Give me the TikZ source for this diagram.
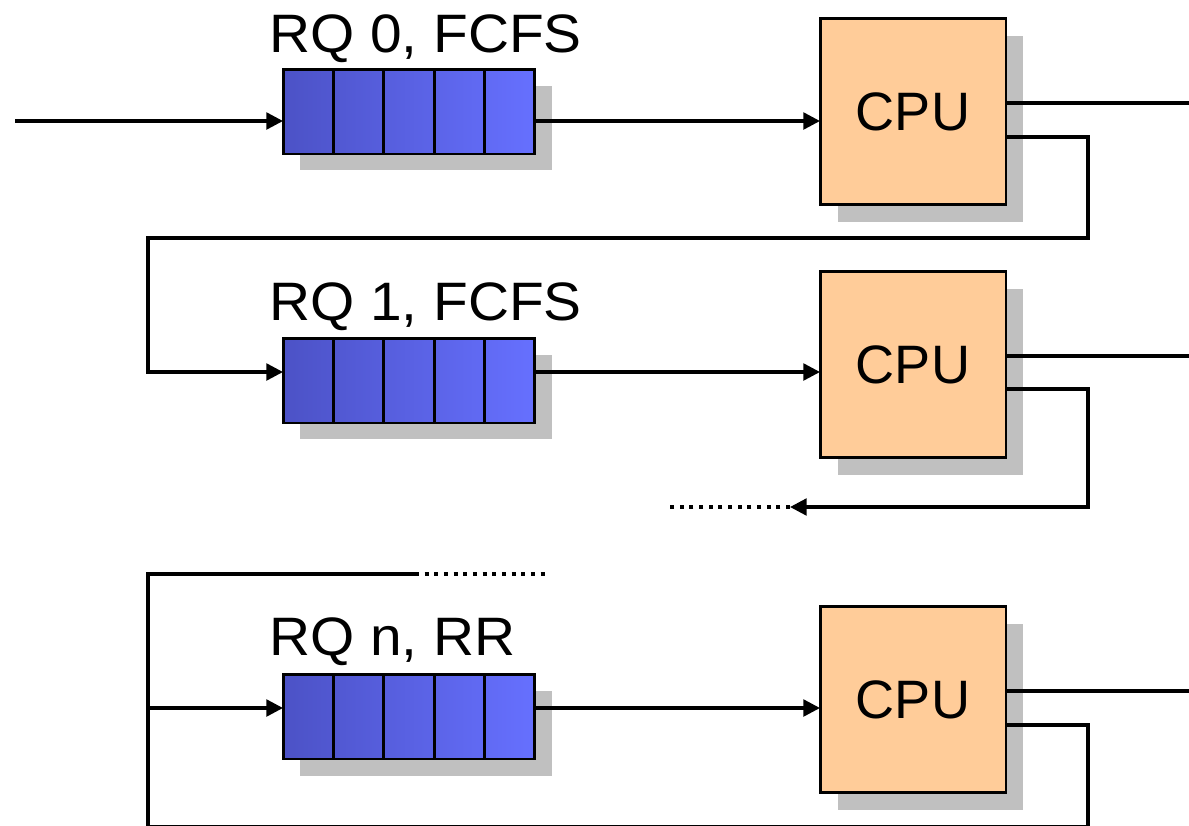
\documentclass[tikz,border=0pt]{standalone}
\usepackage{fontspec}
\setmainfont{Liberation Sans}
\newfontfamily\lblfont[FakeStretch=1.05]{Liberation Sans}
\usepackage{xcolor}
\usetikzlibrary{arrows.meta,calc,shadows}

\definecolor{qleft}{HTML}{4C52C6}
\definecolor{qright}{HTML}{6670FF}
\definecolor{cpufill}{HTML}{FFCC99}
\definecolor{shade}{HTML}{C0C0C0}

\tikzset{
  flow/.style={draw=black,line width=1.9pt},
  tip/.style={-{Triangle[length=9.5pt,width=9.5pt]}},
  dots/.style={draw=black,line width=2.2pt,dash pattern=on 2.3pt off 3.2pt},
  queue/.style={draw=black,line width=1.7pt,left color=qleft,right color=qright,
    minimum width=5.04cm,minimum height=1.7cm,inner sep=0pt,outer sep=0pt,
    drop shadow={shadow xshift=0.34cm,shadow yshift=-0.33cm,fill=shade,opacity=1}},
  cell/.style={draw=black,line width=1.6pt},
  cpu/.style={draw=black,line width=1.7pt,fill=cpufill,
    minimum width=3.72cm,minimum height=3.72cm,inner sep=0pt,outer sep=0pt,
    font=\fontsize{30.8}{36}\selectfont,
    drop shadow={shadow xshift=0.35cm,shadow yshift=-0.35cm,fill=shade,opacity=1}},
  qlabel/.style={anchor=base west,inner sep=0pt,font=\lblfont\fontsize{30.8}{36}\selectfont}
}

\begin{document}
\begin{tikzpicture}[x=0.02cm,y=-0.02cm]

  \clip (0,0) rectangle (1189,825);

  % %queues
  \node[queue] (q0) at (409,111.5) {};
  \node[queue] (q1) at (409,380.5) {};
  \node[queue] (qn) at (409,716.5) {};
  \foreach \q in {q0,q1,qn}
    \foreach \i in {1,...,4}
      \draw[cell] ($(\q.north west)!\i/5!(\q.north east)$) -- ($(\q.south west)!\i/5!(\q.south east)$);

  \node[qlabel] (l0) at (269,52) {RQ 0, FCFS};
  \node[qlabel] (l1) at (269,320) {RQ 1, FCFS};
  \node[qlabel] (ln) at (269,655) {RQ n, RR};

  % %processors
  \node[cpu] (c0) at (913,111.5) {CPU};
  \node[cpu] (c1) at (913,364.5) {CPU};
  \node[cpu] (cn) at (913,699.5) {CPU};

  \coordinate (in0) at (15,121);
  \coordinate (in1) at (148,372);
  \coordinate (inn) at (148,708);

  \draw[flow,tip] (in0) -- (in0 -| q0.west);
  \draw[flow,tip] (q0.east |- in0) -- (c0.west |- in0);
  \draw[flow,tip] (q1.east |- in1) -- (c1.west |- in1);
  \draw[flow,tip] (qn.east |- inn) -- (cn.west |- inn);

  % %done
  \coordinate (o0) at (1195,103);
  \coordinate (o1) at (1195,356);
  \coordinate (on) at (1195,691);
  \draw[flow] (o0 -| c0.east) -- (o0);
  \draw[flow] (o1 -| c1.east) -- (o1);
  \draw[flow] (on -| cn.east) -- (on);

  % %back to the next queue
  \coordinate (r0) at (1088,137);
  \coordinate (b0) at (148,238);
  \draw[flow,tip] (r0 -| c0.east) -- (r0) |- (b0) -- (in1) -- (in1 -| q1.west);

  \coordinate (r1) at (1088,389);
  \coordinate (d1) at (790,507);
  \coordinate (e1) at (670,507);
  \draw[flow,tip] (r1 -| c1.east) -- (r1) |- (d1);
  \draw[dots] (d1) -- (e1);

  \coordinate (rn) at (1088,725);
  \coordinate (un) at (1088,826.5);
  \coordinate (vn) at (148,826.5);
  \coordinate (bn) at (148,574);
  \coordinate (sn) at (415,574);
  \coordinate (en) at (548,574);
  \draw[flow] (rn -| cn.east) -- (rn) -- (un) -- (vn) -- (bn) -- (sn);
  \draw[dots] (sn) -- (en);
  \draw[flow,tip] (inn) -- (inn -| qn.west);

\end{tikzpicture}
\end{document}
